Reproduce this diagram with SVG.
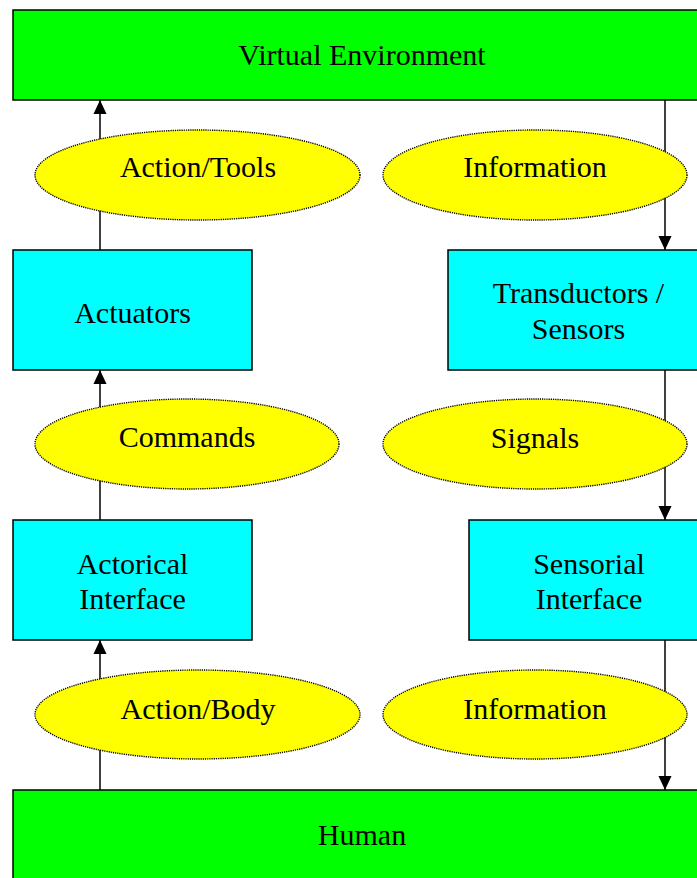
<svg xmlns="http://www.w3.org/2000/svg" width="697" height="878" viewBox="0 0 697 878">
<style>
.big{fill:#00ff00;stroke:#000;stroke-width:1.5}
.box{fill:#00ffff;stroke:#000;stroke-width:1.5}
.ell{fill:#ffff00;stroke:#000;stroke-width:1.4;stroke-dasharray:1.2 1}
.t{font-family:"Liberation Serif","Times New Roman",serif;font-size:30px;fill:#000;text-anchor:middle}
.c{stroke:#000;stroke-width:1.5;fill:none;marker-end:url(#ah)}
</style>
<defs>
<marker id="ah" markerUnits="userSpaceOnUse" markerWidth="14" markerHeight="15" viewBox="0 0 15 14" refX="15" refY="7" orient="auto">
<path d="M0,0 L15,7 L0,14 Z" fill="#000"/>
</marker>
</defs>
<g id="connectors">
<line class="c" x1="100" y1="250" x2="100" y2="100"/>
<line class="c" x1="100" y1="520" x2="100" y2="370"/>
<line class="c" x1="100" y1="790" x2="100" y2="640"/>
<line class="c" x1="665" y1="100" x2="665" y2="250"/>
<line class="c" x1="665" y1="370" x2="665" y2="520"/>
<line class="c" x1="665" y1="640" x2="665" y2="790"/>
</g>
<g id="virtual-environment"><rect class="big" x="13" y="10" width="697" height="90"/><text class="t" x="362" y="65">Virtual Environment</text></g>
<g id="action-tools"><ellipse class="ell" cx="197.5" cy="175" rx="162.5" ry="45"/><text class="t" x="198" y="177">Action/Tools</text></g>
<g id="information-top"><ellipse class="ell" cx="535" cy="175" rx="152" ry="45"/><text class="t" x="535" y="177">Information</text></g>
<g id="actuators"><rect class="box" x="13" y="250" width="239" height="120"/><text class="t" x="132.5" y="323">Actuators</text></g>
<g id="transductors"><rect class="box" x="448" y="250" width="262" height="120"/><text class="t" x="578.5" y="303">Transductors /</text><text class="t" x="578.5" y="339">Sensors</text></g>
<g id="commands"><ellipse class="ell" cx="187" cy="444" rx="152" ry="45"/><text class="t" x="187" y="447">Commands</text></g>
<g id="signals"><ellipse class="ell" cx="535" cy="444" rx="152" ry="45"/><text class="t" x="535" y="448">Signals</text></g>
<g id="actorical-interface"><rect class="box" x="13" y="520" width="239" height="120"/><text class="t" x="132.5" y="574">Actorical</text><text class="t" x="132.5" y="609">Interface</text></g>
<g id="sensorial-interface"><rect class="box" x="469" y="520" width="241" height="120"/><text class="t" x="589" y="574">Sensorial</text><text class="t" x="589" y="609">Interface</text></g>
<g id="action-body"><ellipse class="ell" cx="197.5" cy="714.5" rx="162.5" ry="44.5"/><text class="t" x="198" y="719">Action/Body</text></g>
<g id="information-bottom"><ellipse class="ell" cx="535" cy="714.5" rx="152" ry="44.5"/><text class="t" x="535" y="719">Information</text></g>
<g id="human"><rect class="big" x="13" y="790" width="697" height="100"/><text class="t" x="362" y="845">Human</text></g>
</svg>
